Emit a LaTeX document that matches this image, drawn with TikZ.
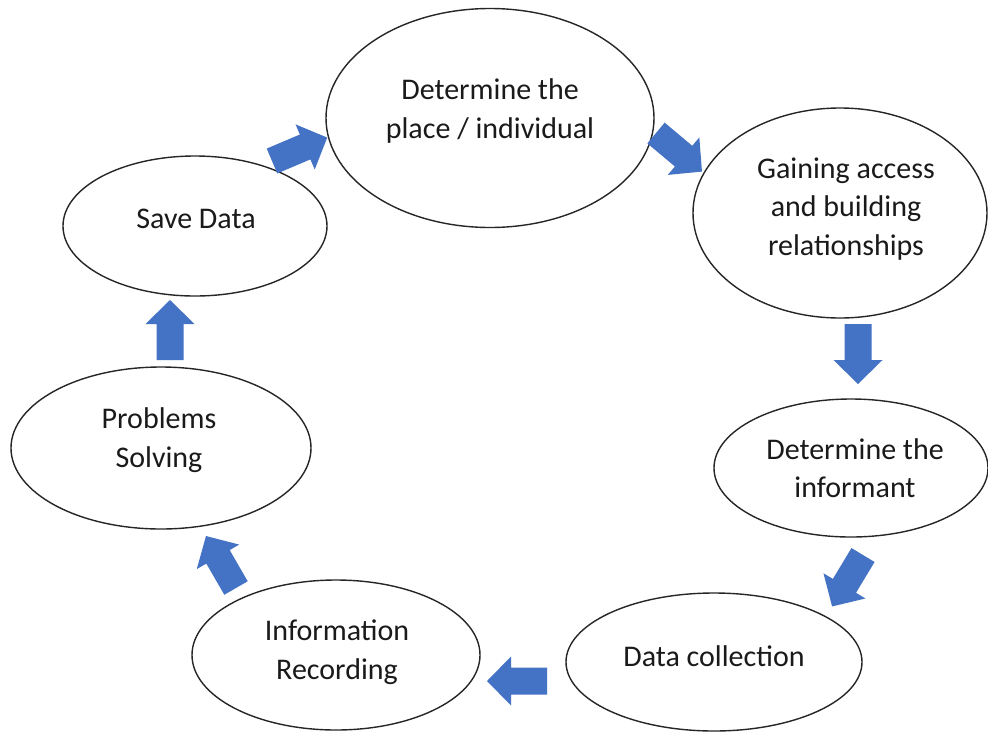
\documentclass[tikz,border=0pt]{standalone}
\usepackage{fontspec}
\setmainfont{Carlito}
\usetikzlibrary{shapes.geometric}
\definecolor{arrowblue}{HTML}{4472C4}
\definecolor{edgegray}{HTML}{262626}
\definecolor{txtgray}{HTML}{1A1A1A}
\newcommand\blockarr[2]{%
  \fill[arrowblue, shift={(#1)}, rotate=#2]
    (0,-13.5) -- (36,-13.5) -- (36,-24.5) -- (60,0) -- (36,24.5) -- (36,13.5) -- (0,13.5) -- cycle;}
\tikzset{
  ell/.style={draw=edgegray, line width=1.4pt, ellipse, inner sep=0pt, outer sep=0pt, fill=white},
  txt/.style={align=center, text=txtgray, font=\fontsize{30}{38.5}\selectfont, inner sep=0pt}
}
\begin{document}
\begin{tikzpicture}[x=1pt, y=-1pt]
\useasboundingbox[fill=white] (0,0) rectangle (988,732);
% ellipses
\node[ell, minimum width=328, minimum height=219] (e1) at (490,118) {};
\node[ell, minimum width=294, minimum height=210] (e2) at (840,213) {};
\node[ell, minimum width=274, minimum height=138] (e3) at (851,468) {};
\node[ell, minimum width=296, minimum height=138] (e4) at (714,662) {};
\node[ell, minimum width=288, minimum height=150] (e5) at (336,655) {};
\node[ell, minimum width=300, minimum height=162] (e6) at (161,448) {};
\node[ell, minimum width=264, minimum height=140] (e7) at (195,226) {};
% texts
\node[txt] (t1) at (490,111) {Determine the\\place / individual};
\node[txt] (t2) at (846,209) {Gaining access\\and building\\relationships};
\node[txt] (t3) at (855,468) {Determine the\\informant};
\node[txt] (t4) at (714,656) {Data collection};
\node[txt] (t5) at (337,652) {Information\\Recording};
\node[txt] (t6) at (159,440) {Problems\\Solving};
\node[txt] (t7) at (196,219) {Save Data};
% block arrows
\coordinate (aA) at (272,161);
\coordinate (aB) at (656,133);
\coordinate (aC) at (858,324);
\coordinate (aD) at (863,555);
\coordinate (aE) at (547,681);
\coordinate (aF) at (236,588);
\coordinate (aG) at (170,360);
\blockarr{aA}{23}
\blockarr{aB}{-40}
\blockarr{aC}{-90}
\blockarr{aD}{-121}
\blockarr{aE}{180}
\blockarr{aF}{120}
\blockarr{aG}{90}
\end{tikzpicture}
\end{document}
